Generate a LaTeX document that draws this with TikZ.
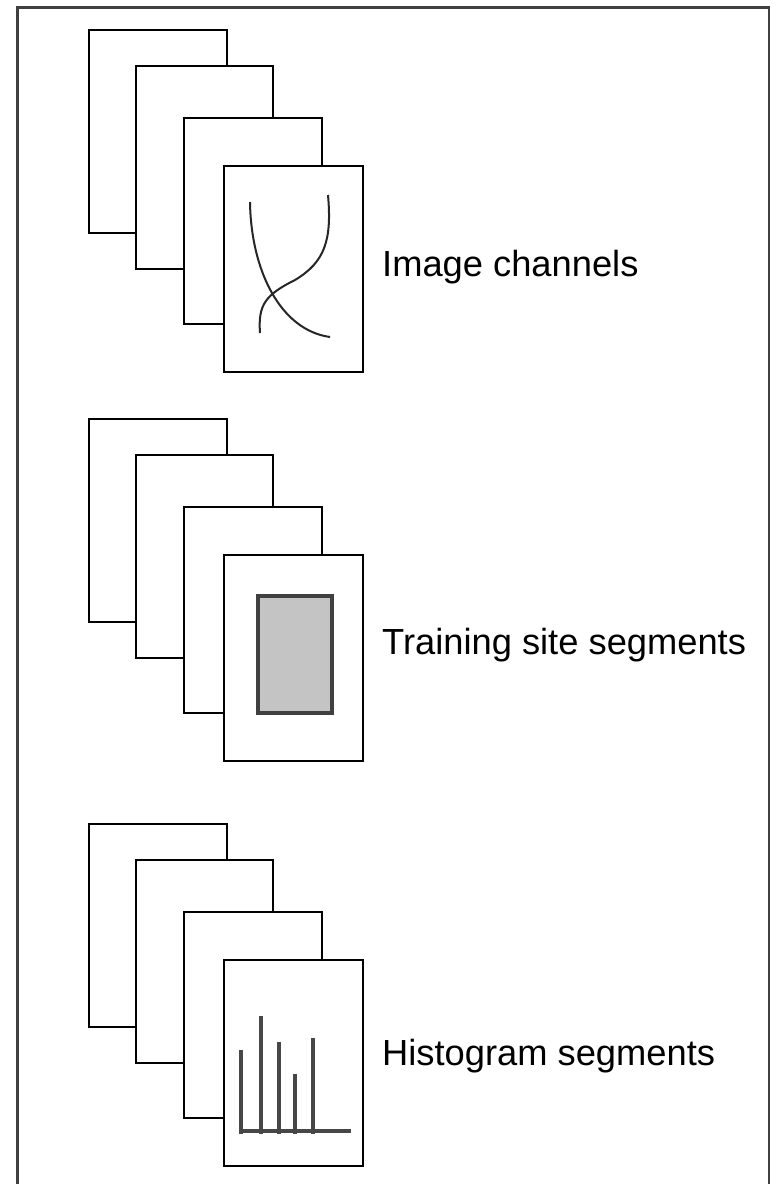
\documentclass[tikz,border=0pt]{standalone}
\usepackage{fontspec}
\setmainfont{Liberation Sans}
\begin{document}
\begin{tikzpicture}[x=1pt,y=-1pt,
  sheet/.style={draw=black,fill=white,line width=1.8pt},
  frame/.style={draw=black!75,line width=2.2pt},
  marks/.style={draw=black!72,line width=3.6pt},
  stacktext/.style={anchor=base west,inner sep=0pt,font=\fontsize{36.3}{42}\selectfont}]
\useasboundingbox (0,0) rectangle (772,1184);
\draw[frame] (17.5,1190) -- (17.5,7.5) -- (769,7.5) -- (769,1190);
% three stacks of four sheets
\foreach \dy in {0,389,794}{
  \draw[sheet] (89,30+\dy) rectangle (227,233+\dy);
  \draw[sheet] (136,66+\dy) rectangle (273,269+\dy);
  \draw[sheet] (184,118+\dy) rectangle (322,324+\dy);
  \draw[sheet] (224,166+\dy) rectangle (363,372+\dy);
}
% image channels
\draw[black!85,line width=2pt] (250,202) .. controls (251,270) and (280,330) .. (330,337);
\draw[black!85,line width=2pt] (328,195) .. controls (332,240) and (325,262) .. (295,280)
  .. controls (265,295) and (258,305) .. (260,333);
% training site
\draw[draw=black!75,fill=black!23,line width=3.5pt] (258,596) rectangle (332,713);
% histogram
\draw[marks] (240,1131) -- (351,1131);
\foreach \x/\top in {241/1050,261/1016,279/1042,295/1074,313/1038}
  \draw[marks] (\x,1134) -- (\x,\top);
\node[stacktext] (chantext) at (382,276) {Image channels};
\node[stacktext] (sitetext) at (382,654) {Training site segments};
\node[stacktext] (histtext) at (382,1065) {Histogram segments};
\end{tikzpicture}
\end{document}
